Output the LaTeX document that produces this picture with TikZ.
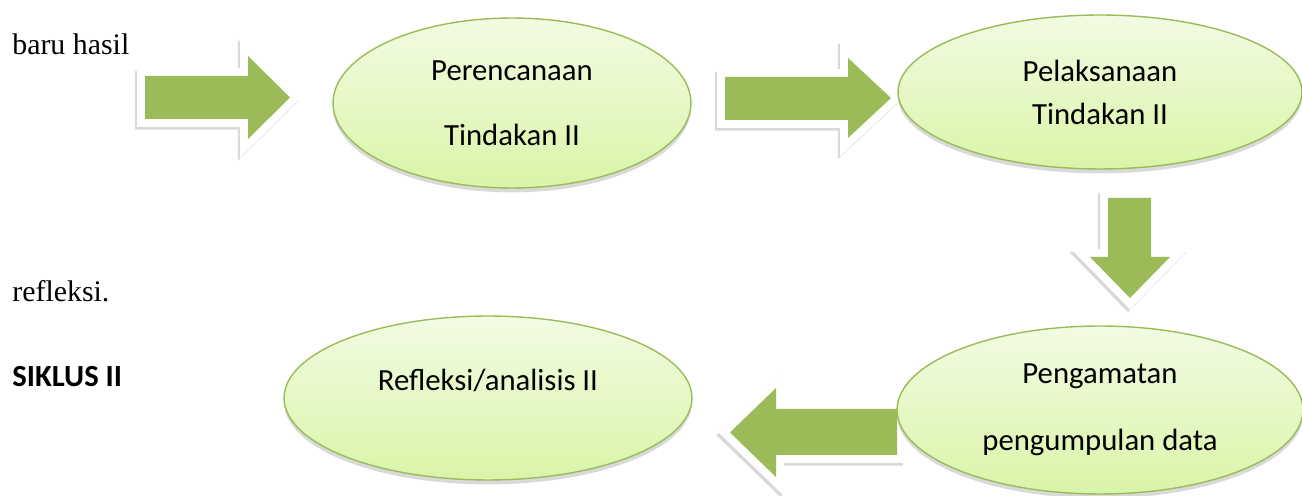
\documentclass[tikz,border=0pt]{standalone}
\usepackage{fontspec}
\setmainfont{Liberation Serif}
\newfontfamily\calibri{Carlito}
\usetikzlibrary{shapes.geometric,shadows}

\definecolor{olive}{HTML}{9BBB59}
\definecolor{paletop}{HTML}{F2FBE3}
\definecolor{palebot}{HTML}{D9F5A8}

\begin{document}
\begin{tikzpicture}[x=0.02cm, y=-0.02cm,
    oval/.style = {ellipse, draw=olive, line width=0.8pt, top color=paletop, bottom color=palebot,
        inner sep=0pt, align=center, font=\calibri\fontsize{17.5}{37}\selectfont,
        drop shadow={shadow xshift=0pt, shadow yshift=-2.5pt, opacity=0.3}},
    blockarr/.style = {fill=olive, line join=miter,
        preaction={fill=black, draw=black, line width=9pt, opacity=0.15,
        transform canvas={xshift=-1.2pt, yshift=-1.6pt}},
        preaction={draw=white, line width=9pt}},
    side/.style = {anchor=base west, inner sep=0pt, font=\fontsize{17}{20}\selectfont}]
    \useasboundingbox (0,0) rectangle (1302,496);
    % left side text
    \node[side] (baru) at (12,55) {baru hasil};
    \node[side] (refl) at (12,302) {refleksi.};
    \node[side, font=\calibri\bfseries\fontsize{17.5}{20}\selectfont] (siklus) at (12,387) {SIKLUS II};
    % block arrows
    \fill[blockarr] (145,76) -- (248,76) -- (248,56) -- (290,97.5) -- (248,139) -- (248,119) -- (145,119) -- cycle;
    \fill[blockarr] (725,77) -- (848,77) -- (848,58) -- (891,98) -- (848,138) -- (848,120) -- (725,120) -- cycle;
    \fill[blockarr] (1108,198) -- (1151,198) -- (1151,257) -- (1170,257) -- (1130,298) -- (1090,257) -- (1108,257) -- cycle;
    \fill[blockarr] (897,409) -- (776,409) -- (776,388) -- (730,432.5) -- (776,477) -- (776,455) -- (897,455) -- cycle;
    % ellipses
    \node[oval, minimum width=7.16cm, minimum height=3.4cm] (plan) at (512,103) {Perencanaan\\Tindakan II};
    \node[oval, minimum width=8.08cm, minimum height=3.08cm, font=\calibri\fontsize{17.5}{24.5}\selectfont] (act) at (1100,92) {Pelaksanaan\\Tindakan II};
    \node[oval, minimum width=8.12cm, minimum height=3.36cm, font=\calibri\fontsize{17.5}{38}\selectfont] (obs) at (1100,410) {Pengamatan\\pengumpulan data};
    \node[oval, minimum width=8.16cm, minimum height=3.28cm, text height=12pt, text depth=21pt] (ana) at (488,398) {Refleksi/analisis II};
\end{tikzpicture}
\end{document}
